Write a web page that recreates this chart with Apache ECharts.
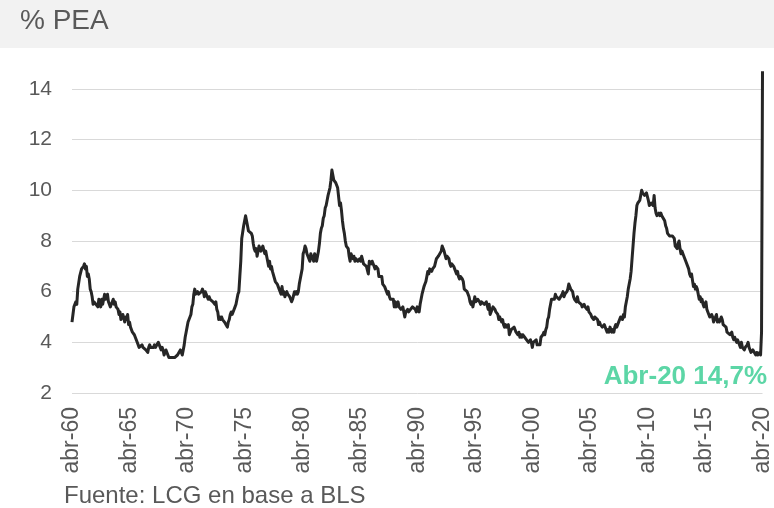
<!DOCTYPE html>
<html>
<head>
<meta charset="utf-8">
<script src="https://cdn.jsdelivr.net/npm/echarts@6/dist/echarts.min.js"></script>
<style>
  html, body { margin: 0; padding: 0; background: #ffffff; }
  #chart { width: 774px; height: 508px; }
</style>
</head>
<body>
<div id="chart"></div>
<script>
// Tasa de desempleo mensual (% de la PEA), desde abril de 1960
const startYear = 1960;
const startMonth = 3; // abril (0 = enero)
const monthNames = ['ene', 'feb', 'mar', 'abr', 'may', 'jun', 'jul', 'ago', 'sep', 'oct', 'nov', 'dic'];

const rate = [
  /* 1960 */ 4.8, 5.1, 5.4, 5.5, 5.6, 5.5, 6.1, 6.1, 6.6,
  /* 1961 */ 6.6, 6.9, 6.9, 7.0, 7.1, 6.9, 7.0, 6.6, 6.7, 6.5, 6.1, 6.0,
  /* 1962 */ 5.8, 5.5, 5.6, 5.6, 5.5, 5.5, 5.4, 5.7, 5.6, 5.4, 5.7, 5.5,
  /* 1963 */ 5.7, 5.9, 5.7, 5.7, 5.9, 5.6, 5.6, 5.4, 5.5, 5.5, 5.7, 5.5,
  /* 1964 */ 5.6, 5.4, 5.4, 5.3, 5.1, 5.2, 4.9, 5.0, 5.1, 5.1, 4.8, 5.0,
  /* 1965 */ 4.9, 5.1, 4.7, 4.8, 4.6, 4.6, 4.4, 4.4, 4.3, 4.2, 4.1, 4.0,
  /* 1966 */ 4.0, 3.8, 3.8, 3.8, 3.9, 3.8, 3.8, 3.8, 3.7, 3.7, 3.6, 3.8,
  /* 1967 */ 3.9, 3.8, 3.8, 3.8, 3.8, 3.9, 3.8, 3.8, 3.8, 4.0, 3.9, 3.8,
  /* 1968 */ 3.7, 3.8, 3.7, 3.5, 3.5, 3.7, 3.7, 3.5, 3.4, 3.4, 3.4, 3.4,
  /* 1969 */ 3.4, 3.4, 3.4, 3.4, 3.4, 3.5, 3.5, 3.5, 3.7, 3.7, 3.5, 3.5,
  /* 1970 */ 3.9, 4.2, 4.4, 4.6, 4.8, 4.9, 5.0, 5.1, 5.4, 5.5, 5.9, 6.1,
  /* 1971 */ 5.9, 5.9, 6.0, 5.9, 5.9, 5.9, 6.0, 6.1, 6.0, 5.8, 6.0, 6.0,
  /* 1972 */ 5.8, 5.7, 5.8, 5.7, 5.7, 5.7, 5.6, 5.6, 5.5, 5.6, 5.3, 5.2,
  /* 1973 */ 4.9, 5.0, 4.9, 5.0, 4.9, 4.9, 4.8, 4.8, 4.8, 4.6, 4.8, 4.9,
  /* 1974 */ 5.1, 5.2, 5.1, 5.1, 5.1, 5.4, 5.5, 5.5, 5.9, 6.0, 6.6, 7.2,
  /* 1975 */ 8.1, 8.1, 8.6, 8.8, 9.0, 8.8, 8.6, 8.4, 8.4, 8.4, 8.3, 8.2,
  /* 1976 */ 7.9, 7.7, 7.6, 7.7, 7.4, 7.6, 7.8, 7.8, 7.6, 7.7, 7.8, 7.8,
  /* 1977 */ 7.5, 7.6, 7.4, 7.2, 7.0, 7.2, 6.9, 7.0, 6.8, 6.8, 6.8, 6.4,
  /* 1978 */ 6.4, 6.3, 6.3, 6.1, 6.0, 5.9, 6.2, 5.9, 6.0, 5.8, 5.9, 6.0,
  /* 1979 */ 5.9, 5.9, 5.8, 5.8, 5.6, 5.7, 5.7, 6.0, 5.9, 6.0, 5.9, 6.0,
  /* 1980 */ 6.3, 6.3, 6.3, 6.9, 7.5, 7.6, 7.8, 7.7, 7.5, 7.5, 7.5, 7.2,
  /* 1981 */ 7.5, 7.4, 7.4, 7.2, 7.5, 7.5, 7.2, 7.4, 7.6, 7.9, 8.3, 8.5,
  /* 1982 */ 8.6, 8.9, 9.0, 9.3, 9.4, 9.6, 9.8, 9.8, 10.1, 10.4, 10.8, 10.8,
  /* 1983 */ 10.4, 10.4, 10.3, 10.2, 10.1, 10.1, 9.4, 9.5, 9.2, 8.8, 8.5, 8.3,
  /* 1984 */ 8.0, 7.8, 7.8, 7.7, 7.4, 7.2, 7.5, 7.5, 7.3, 7.4, 7.2, 7.3,
  /* 1985 */ 7.3, 7.2, 7.2, 7.3, 7.2, 7.4, 7.4, 7.1, 7.1, 7.1, 7.0, 7.0,
  /* 1986 */ 6.7, 7.2, 7.2, 7.1, 7.2, 7.2, 7.0, 6.9, 7.0, 7.0, 6.9, 6.6,
  /* 1987 */ 6.6, 6.6, 6.6, 6.3, 6.3, 6.2, 6.1, 6.0, 5.9, 6.0, 5.8, 5.7,
  /* 1988 */ 5.7, 5.7, 5.7, 5.4, 5.6, 5.4, 5.4, 5.6, 5.4, 5.4, 5.3, 5.3,
  /* 1989 */ 5.4, 5.2, 5.0, 5.2, 5.2, 5.3, 5.2, 5.2, 5.3, 5.3, 5.4, 5.4,
  /* 1990 */ 5.4, 5.3, 5.2, 5.4, 5.4, 5.2, 5.5, 5.7, 5.9, 5.9, 6.2, 6.3,
  /* 1991 */ 6.4, 6.6, 6.8, 6.7, 6.9, 6.9, 6.8, 6.9, 6.9, 7.0, 7.0, 7.3,
  /* 1992 */ 7.3, 7.4, 7.4, 7.4, 7.6, 7.8, 7.7, 7.6, 7.6, 7.3, 7.4, 7.4,
  /* 1993 */ 7.3, 7.1, 7.0, 7.1, 7.1, 7.0, 6.9, 6.8, 6.7, 6.8, 6.6, 6.5,
  /* 1994 */ 6.6, 6.6, 6.5, 6.4, 6.1, 6.1, 6.1, 6.0, 5.9, 5.8, 5.6, 5.5,
  /* 1995 */ 5.6, 5.4, 5.4, 5.8, 5.6, 5.6, 5.7, 5.7, 5.6, 5.5, 5.6, 5.6,
  /* 1996 */ 5.6, 5.5, 5.5, 5.6, 5.6, 5.3, 5.5, 5.1, 5.2, 5.2, 5.4, 5.4,
  /* 1997 */ 5.3, 5.2, 5.2, 5.1, 4.9, 5.0, 4.9, 4.8, 4.9, 4.7, 4.6, 4.7,
  /* 1998 */ 4.6, 4.6, 4.7, 4.3, 4.4, 4.5, 4.5, 4.5, 4.6, 4.5, 4.4, 4.4,
  /* 1999 */ 4.3, 4.4, 4.2, 4.3, 4.2, 4.3, 4.3, 4.2, 4.2, 4.1, 4.1, 4.0,
  /* 2000 */ 4.0, 4.1, 4.0, 3.8, 4.0, 4.0, 4.0, 4.1, 3.9, 3.9, 3.9, 3.9,
  /* 2001 */ 4.2, 4.2, 4.3, 4.4, 4.3, 4.5, 4.6, 4.9, 5.0, 5.3, 5.5, 5.7,
  /* 2002 */ 5.7, 5.7, 5.7, 5.9, 5.8, 5.8, 5.8, 5.7, 5.7, 5.7, 5.9, 6.0,
  /* 2003 */ 5.8, 5.9, 5.9, 6.0, 6.1, 6.3, 6.2, 6.1, 6.1, 6.0, 5.8, 5.7,
  /* 2004 */ 5.7, 5.6, 5.8, 5.6, 5.6, 5.6, 5.5, 5.4, 5.4, 5.5, 5.4, 5.4,
  /* 2005 */ 5.3, 5.4, 5.2, 5.2, 5.1, 5.0, 5.0, 4.9, 5.0, 5.0, 5.0, 4.9,
  /* 2006 */ 4.7, 4.8, 4.7, 4.7, 4.6, 4.6, 4.7, 4.7, 4.5, 4.4, 4.5, 4.4,
  /* 2007 */ 4.6, 4.5, 4.4, 4.5, 4.4, 4.6, 4.7, 4.6, 4.7, 4.7, 4.7, 5.0,
  /* 2008 */ 5.0, 4.9, 5.1, 5.0, 5.4, 5.6, 5.8, 6.1, 6.1, 6.5, 6.8, 7.3,
  /* 2009 */ 7.8, 8.3, 8.7, 9.0, 9.4, 9.5, 9.5, 9.6, 9.8, 10.0, 9.9, 9.9,
  /* 2010 */ 9.8, 9.8, 9.9, 9.9, 9.6, 9.4, 9.4, 9.5, 9.5, 9.4, 9.8, 9.3,
  /* 2011 */ 9.1, 9.0, 9.0, 9.1, 9.0, 9.1, 9.0, 9.0, 9.0, 8.8, 8.6, 8.5,
  /* 2012 */ 8.3, 8.3, 8.2, 8.2, 8.2, 8.2, 8.2, 8.1, 7.8, 7.8, 7.7, 7.9,
  /* 2013 */ 8.0, 7.7, 7.5, 7.6, 7.5, 7.5, 7.3, 7.2, 7.2, 7.2, 6.9, 6.7,
  /* 2014 */ 6.6, 6.7, 6.7, 6.2, 6.3, 6.1, 6.2, 6.1, 5.9, 5.7, 5.8, 5.6,
  /* 2015 */ 5.7, 5.5, 5.4, 5.4, 5.6, 5.3, 5.2, 5.1, 5.0, 5.0, 5.1, 5.0,
  /* 2016 */ 4.8, 4.9, 5.0, 5.1, 4.8, 4.9, 4.8, 4.9, 5.0, 4.9, 4.7, 4.7,
  /* 2017 */ 4.7, 4.6, 4.4, 4.4, 4.4, 4.3, 4.3, 4.4, 4.2, 4.1, 4.2, 4.1,
  /* 2018 */ 4.0, 4.1, 4.0, 4.0, 3.8, 4.0, 3.8, 3.8, 3.7, 3.8, 3.8, 3.9,
  /* 2019 */ 4.0, 3.8, 3.8, 3.6, 3.6, 3.7, 3.7, 3.7, 3.5, 3.6, 3.5, 3.5,
  /* 2020 */ 3.6, 3.5, 4.4, 14.7
];

const yTicks = [2, 4, 6, 8, 10, 12, 14];
const labelStep = 60; // una etiqueta cada cinco años

// Categorías mensuales con formato "abr-60"
const months = rate.map((_, i) => {
  const m = startMonth + i;
  const y = startYear + Math.floor(m / 12);
  return monthNames[m % 12] + '-' + String(y % 100).padStart(2, '0');
});

const lastIdx = rate.length - 1;
const lastLabel = months[lastIdx].charAt(0).toUpperCase() + months[lastIdx].slice(1) +
  ' ' + rate[lastIdx].toFixed(1).replace('.', ',') + '%';

const font = '"Liberation Sans", Arial, sans-serif';
const grey = '#595959';

const chart = echarts.init(document.getElementById('chart'), null, { renderer: 'canvas' });
chart.setOption({
  animation: false,
  backgroundColor: '#ffffff',
  textStyle: { fontFamily: font },
  grid: { left: 72, right: 7, top: 89, bottom: 115, containLabel: false },
  graphic: [
    { type: 'rect', left: 0, top: 0, shape: { width: 774, height: 48 }, style: { fill: '#f2f2f2' }, silent: true },
    { type: 'text', left: 20, top: 7, style: { text: '% PEA', fontSize: 28, fontFamily: font, fill: grey } },
    { type: 'text', left: 64, top: 484, style: { text: 'Fuente: LCG en base a BLS', fontSize: 24, fontFamily: font, fill: grey } },
    { type: 'text', right: 7, top: 364, style: { text: lastLabel, fontSize: 26, fontWeight: 'bold', fontFamily: font, fill: '#5cd6a6' } }
  ],
  xAxis: {
    type: 'category',
    data: months,
    boundaryGap: false,
    axisLine: { show: false },
    axisTick: { show: false },
    axisLabel: {
      interval: (idx) => idx % labelStep === 0,
      rotate: 90,
      margin: 14,
      fontSize: 23,
      color: grey,
      fontFamily: font
    },
    splitLine: { show: false }
  },
  yAxis: {
    type: 'value',
    min: yTicks[0],
    max: yTicks[yTicks.length - 1],
    interval: 2,
    axisLine: { show: false },
    axisTick: { show: false },
    axisLabel: { fontSize: 21, color: grey, margin: 20, fontFamily: font },
    splitLine: { lineStyle: { color: '#d9d9d9', width: 1 } }
  },
  series: [{
    type: 'line',
    data: rate,
    clip: false,
    showSymbol: false,
    symbol: 'none',
    lineStyle: { color: '#262626', width: 3, join: 'round' }
  }]
});
</script>
</body>
</html>
